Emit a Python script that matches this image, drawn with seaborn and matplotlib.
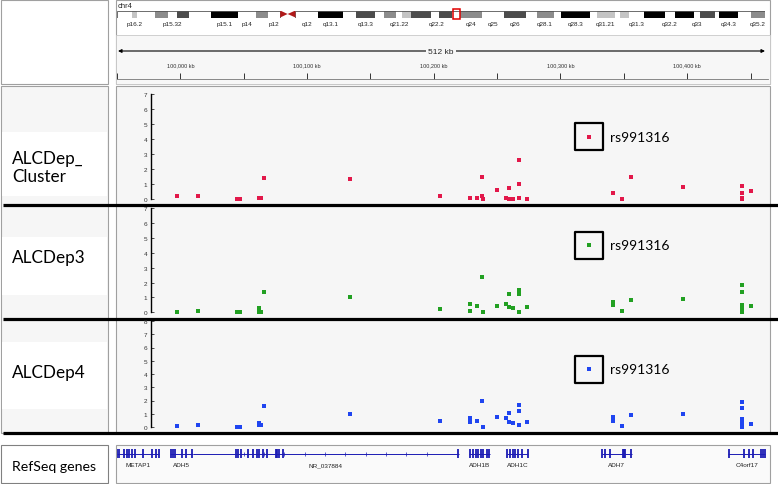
import matplotlib.pyplot as plt
from matplotlib.patches import Rectangle
import numpy as np
import pandas as pd
import seaborn as sns

# ---- data ----
# SNP positions (kb on chr4) and scores, one pair of lists per track
cluster_kb = [99998.2, 100015.0, 100045.7, 100048.3, 100062.8, 100064.3, 100066.7, 100134.6,
              100205.5, 100229.1, 100234.9, 100238.8, 100238.8, 100239.6, 100250.2, 100257.5,
              100259.8, 100259.8, 100263.2, 100267.7, 100267.9, 100267.9, 100274.3, 100341.5,
              100349.1, 100355.9, 100396.6, 100443.1, 100443.1, 100443.1, 100443.5, 100450.6]
cluster_val = [0.18, 0.18, 0.0, 0.0, 0.09, 0.09, 1.4, 1.36,
               0.22, 0.09, 0.09, 1.44, 0.18, 0.0, 0.62, 0.09,
               0.71, 0.02, 0.02, 1.0, 2.62, 0.09, 0.02, 0.38,
               0.0, 1.44, 0.8, 0.87, 0.42, 0.09, 0.0, 0.53]

dep3_kb = [99998.2, 100015.0, 100045.7, 100048.3, 100062.8, 100062.8, 100064.3, 100066.7,
           100134.6, 100205.5, 100229.1, 100229.1, 100234.9, 100238.8, 100239.6, 100250.2,
           100257.5, 100259.8, 100259.8, 100263.2, 100267.7, 100267.7, 100267.9, 100274.3,
           100341.5, 100341.5, 100349.1, 100355.9, 100396.6, 100443.1, 100443.1, 100443.5,
           100443.1, 100443.1, 100450.6]
dep3_val = [0.0, 0.09, 0.0, 0.0, 0.29, 0.0, 0.0, 1.34,
            1.03, 0.2, 0.56, 0.11, 0.4, 2.4, 0.0, 0.45,
            0.56, 1.2, 0.38, 0.29, 1.48, 1.23, 0.0, 0.36,
            0.69, 0.47, 0.09, 0.83, 0.9, 1.83, 1.34, 0.5,
            0.2, 0.0, 0.45]

dep4_kb = dep3_kb
dep4_val = [0.05, 0.15, 0.0, 0.0, 0.3, 0.18, 0.13, 1.6,
            0.96, 0.48, 0.7, 0.35, 0.43, 1.99, 0.0, 0.78,
            0.68, 1.06, 0.38, 0.33, 1.64, 1.18, 0.13, 0.35,
            0.75, 0.45, 0.08, 0.93, 1.0, 1.9, 1.43, 0.6,
            0.3, 0.0, 0.2]

rs_name = "rs991316"
rs_kb = 100322.8
rs_val = [4.15, 4.5, 4.35]

track_names = ["ALCDep_\nCluster", "ALCDep3", "ALCDep4"]
track_colors = ["#e2184a", "#22a022", "#1f45f0"]
track_max = [7, 7, 8]

# genes (kb)
gene_names = ["METAP1", "ADH5", "NR_037884", "ADH1B", "ADH1C", "ADH7", "C4orf17"]
gene_start = [99951.0, 99993.0, 100011.0, 100228.0, 100258.0, 100332.8, 100432.5]
gene_end = [99984.0, 100011.0, 100220.5, 100245.0, 100275.0, 100356.5, 100461.5]
gene_exons = [
    [99951, 99953, 99956.5, 99959, 99961, 99963, 99965, 99972, 99978.5, 99982, 99984],
    [99993.5, 99995, 99997, 100002, 100005.5, 100010],
    [100044.9, 100046.7, 100048.6, 100054.6, 100058.5, 100061.2, 100063.2, 100066.4,
     100069, 100076.5, 100077.5, 100078.5, 100082, 100220],
    [100229, 100231.7, 100233.9, 100235.7, 100237.6, 100239.6, 100242.3, 100244.3],
    [100258.5, 100260.6, 100262.8, 100264.8, 100267.2, 100269.8, 100274.6],
    [100333.3, 100335.4, 100339.4, 100349.4, 100350.4, 100351.4, 100356],
    [100433.3, 100444.9, 100449, 100452.2, 100458, 100460, 100461.4],
]

# chr4 cytobands (Mb)
band_names = ["p16.3", "p16.2", "p16.1", "p15.33", "p15.32", "p15.31", "p15.2", "p15.1", "p14", "p13",
              "p12", "p11", "q11", "q12", "q13.1", "q13.2", "q13.3", "q21.1", "q21.21", "q21.22",
              "q21.23", "q21.3", "q22.1", "q22.2", "q22.3", "q23", "q24", "q25", "q26", "q27",
              "q28.1", "q28.2", "q28.3", "q31.1", "q31.21", "q31.22", "q31.23", "q31.3", "q32.1", "q32.2",
              "q32.3", "q33", "q34.1", "q34.2", "q34.3", "q35.1", "q35.2"]
band_start = [0, 4.5, 6.0, 11.3, 15.2, 17.8, 21.3, 27.7, 35.8, 41.2,
              44.6, 48.2, 50.4, 52.7, 59.5, 66.6, 70.5, 76.3, 78.9, 82.4,
              84.1, 86.9, 92.8, 93.7, 95.1, 98.8, 101.1, 107.7, 114.1, 120.8,
              123.8, 128.8, 131.1, 139.5, 141.5, 146.8, 148.5, 151.1, 155.6, 161.8,
              164.5, 170.1, 171.9, 176.3, 177.5, 183.2, 187.1]
band_end = band_start[1:] + [191.15]
band_stain = ["gneg", "gpos25", "gneg", "gpos50", "gneg", "gpos75", "gneg", "gpos100", "gneg", "gpos50",
              "gneg", "acen", "acen", "gneg", "gpos100", "gneg", "gpos75", "gneg", "gpos50", "gneg",
              "gpos25", "gpos75", "gneg", "gneg", "gpos75", "gneg", "gpos50", "gneg", "gpos75", "gneg",
              "gpos50", "gneg", "gpos100", "gneg", "gpos25", "gneg", "gpos25", "gneg", "gpos100", "gneg",
              "gpos100", "gneg", "gpos75", "gneg", "gpos100", "gneg", "gpos50"]
labelled_bands = ["p16.2", "p15.32", "p15.1", "p14", "p12", "q12", "q13.1", "q13.3", "q21.22", "q22.2",
                  "q24", "q25", "q26", "q28.1", "q28.3", "q31.21", "q31.3", "q32.2", "q33", "q34.3", "q35.2"]
chr_len = 191.15
region_mb = 100.2

ruler_major = [100000, 100100, 100200, 100300, 100400]
ruler_minor = [99950, 100050, 100150, 100250, 100350, 100450]
KB_MIN, KB_MAX = 99951.2, 100463.8
AXIS_KB = 99978.3

# ---- figure ----
sns.set_style("white")
plt.rcParams['font.family'] = ['Liberation Sans', 'DejaVu Sans']

W, H = 778, 485
fig = plt.figure(figsize=(W / 100, H / 100), dpi=100)


def box(x0, y0, x1, y1):
    return [x0 / W, 1 - y1 / H, (x1 - x0) / W, (y1 - y0) / H]


bg = fig.add_axes([0, 0, 1, 1])
bg.set_xlim(0, W)
bg.set_ylim(H, 0)
bg.axis('off')

edge = '#a0a0a0'
# header boxes
bg.add_patch(Rectangle((1, 1), 107, 84, fc='white', ec=edge, lw=0.8))
bg.add_patch(Rectangle((116, 1), 654, 84, fc='white', ec=edge, lw=0.8))
bg.add_patch(Rectangle((116, 36), 654, 49, fc='#f7f7f7', ec='#c8c8c8', lw=0.6))
# track area
bg.add_patch(Rectangle((1, 87), 107, 347, fc='#f6f6f6', ec=edge, lw=0.8))
bg.add_patch(Rectangle((116, 87), 654, 347, fc='#f6f6f6', ec=edge, lw=0.8))
for y0, y1 in [(133, 197), (238, 296), (343, 410)]:
    bg.add_patch(Rectangle((2, y0), 105, y1 - y0, fc='white', ec='none'))
# gene track boxes
bg.add_patch(Rectangle((1, 446), 107, 38, fc='white', ec='#808080', lw=0.8))
bg.add_patch(Rectangle((116, 446), 654, 38, fc='#fafafa', ec=edge, lw=0.8))

# thick separators
for y in [205.5, 319.5, 434]:
    bg.plot([3, 778], [y, y], color='black', lw=2.3, solid_capstyle='butt')

# track labels
label_y = [168, 258, 373]
for name, y in zip(track_names, label_y):
    bg.text(12, y, name, ha='left', va='center', fontsize=12.3, family=['Lato', 'DejaVu Sans'],
            linespacing=1.15, color='black')
bg.text(12, 467, "RefSeq genes", ha='left', va='center', fontsize=10.2,
        family=['Lato', 'DejaVu Sans'], color='black')

# chromosome name + scale bar
bg.text(118, 6, "chr4", ha='left', va='center', fontsize=5.5)
for end_x in [118, 765]:
    bg.annotate("", xy=(end_x, 52), xytext=(441, 52),
                arrowprops=dict(arrowstyle='-|>', lw=0.8, color='black', mutation_scale=5,
                                shrinkA=0, shrinkB=0))
bg.text(441, 52, "512 kb", ha='center', va='center', fontsize=6,
        bbox=dict(fc='#f7f7f7', ec='none', pad=1.5))

# ideogram
stain_color = {"gneg": "white", "gpos25": "#c4c4c4", "gpos50": "#8c8c8c",
               "gpos75": "#4c4c4c", "gpos100": "black"}
ix = fig.add_axes(box(116.7, 11.5, 765, 18.5))
ix.set_xlim(0, chr_len)
ix.set_ylim(0, 1)
ix.axis('off')
for s, e, st in zip(band_start, band_end, band_stain):
    if st != 'acen':
        ix.add_patch(Rectangle((s, 0), e - s, 1, fc=stain_color[st], ec='none'))
cen_s = band_start[band_names.index("p11")]
cen_m = band_start[band_names.index("q11")]
cen_e = band_end[band_names.index("q11")]
ix.add_patch(Rectangle((0, 0), cen_s, 1, fill=False, ec='#555555', lw=0.6))
ix.add_patch(Rectangle((cen_e, 0), chr_len - cen_e, 1, fill=False, ec='#555555', lw=0.6))
ix.fill([cen_s, cen_m, cen_s], [0, 0.5, 1], color='#b01818', lw=0)
ix.fill([cen_e, cen_m, cen_e], [0, 0.5, 1], color='#b01818', lw=0)
ix.add_patch(Rectangle((region_mb - 1.0, -0.2), 2.0, 1.4, fill=False, ec='#e00000', lw=1.1,
                       clip_on=False))
for name in labelled_bands:
    i = band_names.index(name)
    ix.text((band_start[i] + band_end[i]) / 2, -0.45, name, ha='center', va='top', fontsize=4.6,
            color='#222222', clip_on=False)

# ruler
rx = fig.add_axes(box(117, 70, 768, 80))
rx.patch.set_alpha(0)
rx.set_xlim(KB_MIN, KB_MAX)
rx.set_yticks([])
rx.set_xticks(ruler_major)
rx.set_xticklabels([f"{t:,} kb" for t in ruler_major])
rx.set_xticks(ruler_minor, minor=True)
rx.tick_params(axis='x', which='both', direction='in', bottom=True, top=False,
               labelbottom=False, labeltop=True, length=4.2, width=0.7, labelsize=4, pad=1.5,
               colors='#333333')
for s in ['top', 'left', 'right']:
    rx.spines[s].set_visible(False)
rx.spines['bottom'].set_color('#777777')
rx.spines['bottom'].set_linewidth(0.6)

# data tracks
track_kb = [cluster_kb, dep3_kb, dep4_kb]
track_val = [cluster_val, dep3_val, dep4_val]
track_px = [(95, 200), (209, 313.3), (322, 428)]
for kb, val, color, ymax, (top, bottom), rv in zip(track_kb, track_val, track_colors, track_max,
                                                   track_px, rs_val):
    ax = fig.add_axes(box(117, top, 768, bottom))
    ax.patch.set_alpha(0)
    df = pd.DataFrame({"kb": kb, "score": val})
    sns.scatterplot(data=df, x="kb", y="score", ax=ax, marker='s', s=4.8, color=color,
                    linewidth=0, clip_on=False)
    ax.scatter([rs_kb], [rv], marker='s', s=4.8, color=color, linewidths=0)
    ax.scatter([rs_kb], [rv], marker='s', s=390, facecolors='none', edgecolors='black',
               linewidths=1.6)
    ax.annotate(rs_name, (rs_kb, rv), xytext=(15.5, 0), textcoords='offset points',
                ha='left', va='center', fontsize=10, family=['Lato', 'DejaVu Sans'], color='black')
    ax.set_xlim(KB_MIN, KB_MAX)
    ax.set_ylim(0, ymax)
    for s in ['top', 'right', 'bottom']:
        ax.spines[s].set_visible(False)
    ax.spines['left'].set_position(('data', AXIS_KB))
    ax.spines['left'].set_linewidth(1.0)
    ax.spines['left'].set_color('black')
    ax.set_yticks(range(ymax + 1))
    ax.tick_params(axis='y', direction='in', length=2.5, width=0.6, labelsize=4.6, pad=3,
                   colors='#333333', left=True)
    ax.spines['left'].set_color('black')
    ax.set_xticks([])
    ax.set_xlabel("")
    ax.set_ylabel("")

# genes
gene_blue = '#1c1cb4'
gx = fig.add_axes(box(117, 446, 768, 484))
gx.patch.set_alpha(0)
gx.set_xlim(KB_MIN, KB_MAX)
gx.set_ylim(38, 0)
gx.axis('off')
for name, start, end, exons in zip(gene_names, gene_start, gene_end, gene_exons):
    gx.hlines(8.7, start, end, color=gene_blue, lw=0.7)
    gx.vlines(exons, 4.2, 13.2, color=gene_blue, lw=1.3)
    if end - start > 60:
        chev = np.arange(start + 40, end - 10, 16)
        gx.plot(chev, [8.7] * len(chev), ls='none', marker='|', ms=2.2, mew=0.5, color=gene_blue)
    gx.text((start + end) / 2, 19.5, name, ha='center', va='center', fontsize=4.6, color='#222222')

fig.savefig("out.png", dpi=100)
